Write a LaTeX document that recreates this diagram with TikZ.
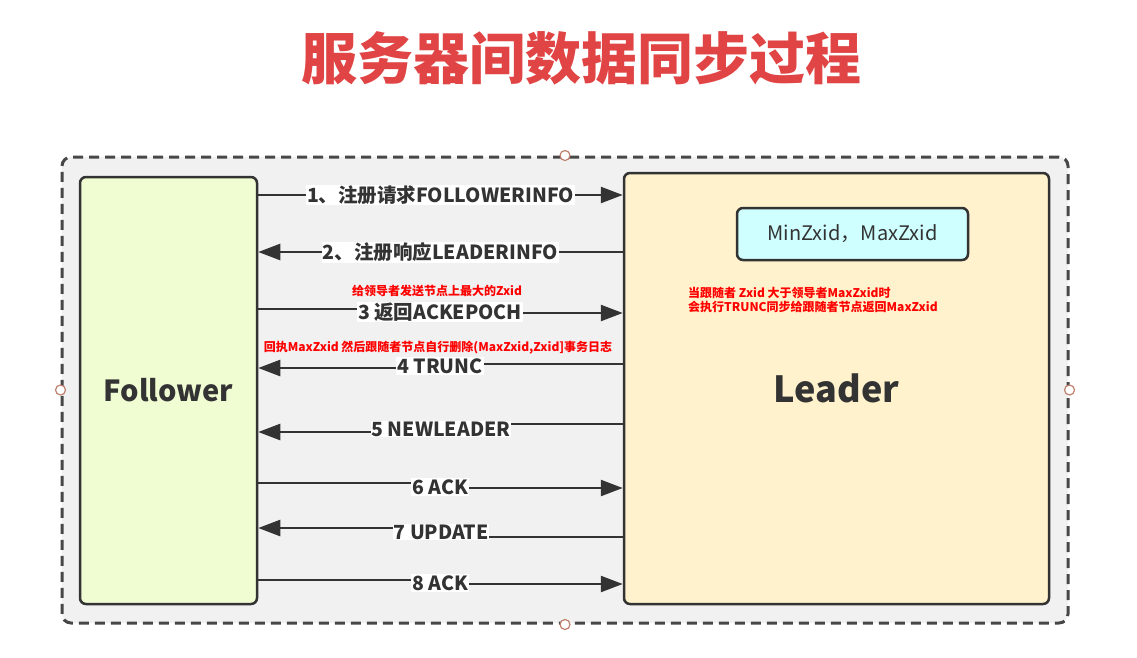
\documentclass[tikz,border=0pt]{standalone}
\usepackage{fontspec}
\newfontfamily\cjk{Noto Sans CJK SC}
\usetikzlibrary{arrows.meta}
\definecolor{edge}{HTML}{333333}
\definecolor{titlered}{HTML}{E04444}
\definecolor{framebg}{HTML}{F1F1F1}
\definecolor{folbg}{HTML}{F0FCD2}
\definecolor{leabg}{HTML}{FFF2CC}
\definecolor{zxidbg}{HTML}{CFFFFF}
\definecolor{handlec}{HTML}{C0806E}
\begin{document}
\begin{tikzpicture}[x=1pt,y=-1pt,
    box/.style={draw=edge,line width=2.5pt,rounded corners=6pt,inner sep=0pt},
    msg/.style={draw=edge,line width=2.5pt,-{Triangle[length=22pt,width=16pt]}},
    lbl/.style={fill=white,inner sep=1pt,text=edge,font=\cjk\bfseries\fontsize{19.5}{22}\selectfont},
    note/.style={text=red,inner sep=0pt,font=\cjk\bfseries\fontsize{12}{14}\selectfont},
    handle/.style={circle,draw=handlec,fill=white,line width=1.2pt,minimum size=10pt,inner sep=0pt}]
\useasboundingbox (0,0) rectangle (1137,657);
\node[text=titlered,font=\cjk\bfseries\fontsize{56}{60}\selectfont] (title) at (581,58) {服务器间数据同步过程};
\node[box,draw=edge!90,fill=framebg,dash pattern=on 10pt off 6pt,line width=3pt,
      rounded corners=9pt,minimum width=1006pt,minimum height=466pt] (frame) at (565,390) {};
\foreach \a in {north,south,west,east}
  \node[handle] at (frame.\a) {};
\node[box,fill=folbg,minimum width=177pt,minimum height=427pt,
      font=\cjk\bfseries\fontsize{29}{32}\selectfont,text=edge] (fol) at (168.5,390.5) {Follower};
\node[box,fill=leabg,minimum width=425pt,minimum height=431pt,
      font=\cjk\bfseries\fontsize{36}{40}\selectfont,text=edge] (lea) at (836.5,388.5) {Leader};
\node[box,fill=zxidbg,minimum width=231pt,minimum height=52pt,
      font=\cjk\fontsize{20}{24}\selectfont,text=edge] (zxid) at (852.5,234) {MinZxid，MaxZxid};
\node[note,anchor=north west,align=left] (leanote) at (688,287) {当跟随者 Zxid 大于领导者MaxZxid时\\会执行TRUNC同步给跟随者节点返回MaxZxid};
\node[note] (note3) at (437,291) {给领导者发送节点上最大的Zxid};
\node[note] (note4) at (438,348) {回执MaxZxid 然后跟随者节点自行删除(MaxZxid,Zxid]事务日志};
\draw[msg] (fol.east |- 0,195) -- node[lbl] {1、注册请求FOLLOWERINFO} (lea.west |- 0,195);
\draw[msg] (lea.west |- 0,252) -- node[lbl] {2、注册响应LEADERINFO} (fol.east |- 0,252);
\draw[msg] (fol.east |- 0,309) -- (440,309) -- (440,313) node[lbl,at={(440,312)}] {3 返回ACKEPOCH} -- (lea.west |- 0,313);
\draw[msg] (lea.west |- 0,364) -- (440,364) -- (440,368) node[lbl,at={(440,366)}] {4 TRUNC} -- (fol.east |- 0,368);
\draw[msg] (lea.west |- 0,424) -- (441,424) -- (441,432) node[lbl,at={(441,429)}] {5 NEWLEADER} -- (fol.east |- 0,432);
\draw[msg] (fol.east |- 0,483) -- (440,483) -- (440,488) node[lbl,at={(440,487)}] {6 ACK} -- (lea.west |- 0,488);
\draw[msg] (lea.west |- 0,537) -- (441,537) -- (441,528) node[lbl,at={(441,532)}] {7 UPDATE} -- (fol.east |- 0,528);
\draw[msg] (fol.east |- 0,580) -- (440,580) -- (440,584) node[lbl,at={(440,583)}] {8 ACK} -- (lea.west |- 0,584);
\end{tikzpicture}
\end{document}
